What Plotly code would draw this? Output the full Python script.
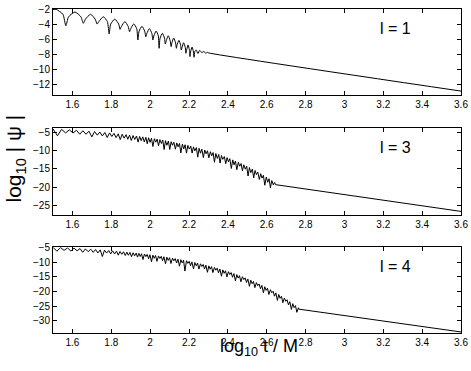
import plotly.graph_objects as go

# log10(t/M) and log10|psi| for the three multipoles
logt_l1 = [1.500, 1.516, 1.551, 1.566,
           1.580, 1.613, 1.644, 1.656, 1.667, 1.693, 1.717, 1.727,
           1.736, 1.759, 1.780, 1.789, 1.797, 1.818, 1.838, 1.845,
           1.852, 1.870, 1.887, 1.894, 1.900, 1.916, 1.931, 1.937,
           1.943, 1.958, 1.972, 1.978, 1.983, 1.996, 2.009, 2.014,
           2.019, 2.031, 2.042, 2.046, 2.051, 2.063, 2.074, 2.078,
           2.083, 2.093, 2.103, 2.108, 2.112, 2.121, 2.131, 2.135,
           2.138, 2.148, 2.157, 2.160, 2.164, 2.172, 2.181, 2.184,
           2.188, 2.195, 2.202, 2.205, 2.208, 2.216, 2.223, 2.226,
           2.230, 2.237, 2.246, 2.255, 2.266, 2.276, 2.287, 2.294, 2.301,
           3.600]
psi_l1 = [-2.02, -2.00, -2.65, -4.17,
          -3.00, -2.35, -3.00, -3.85, -3.30, -2.65, -3.30, -3.95,
          -3.63, -2.98, -3.63, -5.27, -3.95, -3.30, -3.95, -4.65,
          -4.27, -3.62, -4.27, -4.97, -4.58, -3.93, -4.58, -6.07,
          -4.90, -4.25, -4.90, -5.63, -5.21, -4.56, -5.21, -6.07,
          -5.52, -4.87, -5.52, -7.17, -5.83, -5.18, -5.83, -6.60,
          -6.15, -5.50, -6.15, -6.95, -6.45, -5.80, -6.45, -7.17,
          -6.77, -6.12, -6.77, -7.40, -7.08, -6.43, -7.08, -7.83,
          -7.37, -6.72, -7.37, -8.27, -7.65, -7.00, -7.65, -8.36,
          -7.60, -7.38, -7.85, -7.45, -7.75, -7.60, -7.82, -7.70, -7.78,
          -12.85]

logt_l3 = [1.500, 1.523, 1.544, 1.565, 1.584, 1.603, 1.621, 1.638, 1.654, 1.670,
           1.685, 1.700, 1.714, 1.728, 1.741, 1.754, 1.767, 1.779, 1.791, 1.803,
           1.814, 1.825, 1.836, 1.846, 1.856, 1.866, 1.876, 1.885, 1.894, 1.903,
           1.912, 1.921, 1.930, 1.938, 1.946, 1.954, 1.962, 1.970, 1.978, 1.985,
           1.992,
           2.000, 2.007, 2.014, 2.022, 2.029, 2.036, 2.043, 2.050, 2.058, 2.065,
           2.072, 2.079, 2.086, 2.094, 2.101, 2.108, 2.115, 2.122, 2.130, 2.137,
           2.144, 2.151, 2.158, 2.166, 2.173, 2.180, 2.187, 2.194, 2.202, 2.209,
           2.216, 2.223, 2.230, 2.238, 2.245, 2.252, 2.259, 2.266, 2.274, 2.281,
           2.288, 2.295, 2.302, 2.310, 2.317, 2.324, 2.331, 2.338, 2.346, 2.353,
           2.360, 2.367, 2.374, 2.382, 2.389, 2.396, 2.403, 2.410, 2.418, 2.425,
           2.432, 2.439, 2.446, 2.454, 2.461, 2.468, 2.475, 2.482, 2.490, 2.497,
           2.504, 2.511, 2.518, 2.526, 2.533, 2.540, 2.547, 2.554, 2.562, 2.569,
           2.576, 2.583, 2.590, 2.598, 2.605, 2.612, 2.619, 2.626, 2.634, 2.641,
           2.645, 3.600]
psi_l3 = [-4.10, -5.96, -4.22, -5.18, -4.34, -5.20, -4.46, -5.53, -4.58, -5.54,
          -4.70, -6.26, -4.82, -5.79, -4.94, -6.00, -5.07, -6.42, -5.18, -6.15,
          -5.31, -6.46, -5.43, -6.99, -5.54, -6.61, -5.67, -6.92, -5.78, -7.24,
          -5.90, -6.96, -6.02, -7.68, -6.14, -7.30, -6.26, -7.62, -6.38, -8.14,
          -6.50,
          -7.76, -6.62, -8.88, -6.75, -7.71, -6.87, -8.73, -7.00, -8.07, -7.14,
          -9.71, -7.28, -8.55, -7.43, -9.70, -7.58, -8.55, -7.73, -9.62, -7.90,
          -8.97, -8.06, -10.64, -8.24, -9.52, -8.41, -10.70, -8.59, -9.59, -8.78,
          -10.68, -8.98, -10.07, -9.19, -11.79, -9.39, -10.70, -9.60, -11.92, -9.84,
          -10.85, -10.06, -11.97, -10.31, -11.43, -10.55, -13.17, -10.80, -12.14, -11.07,
          -13.41, -11.34, -12.38, -11.64, -13.58, -11.92, -13.06, -12.21, -14.88, -12.54,
          -13.89, -12.85, -15.21, -13.20, -14.27, -13.54, -15.51, -13.88, -15.08, -14.27,
          -16.95, -14.63, -16.03, -15.05, -17.44, -15.44, -16.55, -15.85, -17.89, -16.31,
          -17.52, -16.74, -19.46, -17.23, -18.66, -17.69, -20.13, -18.18, -19.36, -18.71,
          -19.30, -26.60]

logt_l4 = [1.500, 1.520, 1.539, 1.557, 1.575, 1.592, 1.608, 1.624, 1.639, 1.653,
           1.667, 1.681, 1.694, 1.707, 1.719, 1.731, 1.743, 1.754, 1.765, 1.776,
           1.787, 1.797, 1.807, 1.817, 1.827, 1.836, 1.845, 1.854, 1.863, 1.872,
           1.880, 1.888, 1.896, 1.904, 1.912, 1.920, 1.928, 1.935, 1.942,
           1.949, 1.956, 1.963, 1.971, 1.978, 1.985, 1.992, 1.999, 2.007, 2.014,
           2.021, 2.028, 2.035, 2.043, 2.050, 2.057, 2.064, 2.071, 2.079, 2.086,
           2.093, 2.100, 2.107, 2.115, 2.122, 2.129, 2.136, 2.143, 2.151, 2.158,
           2.165, 2.172, 2.179, 2.187, 2.194, 2.201, 2.208, 2.215, 2.223, 2.230,
           2.237, 2.244, 2.251, 2.259, 2.266, 2.273, 2.280, 2.287, 2.295, 2.302,
           2.309, 2.316, 2.323, 2.331, 2.338, 2.345, 2.352, 2.359, 2.367, 2.374,
           2.381, 2.388, 2.395, 2.403, 2.410, 2.417, 2.424, 2.431, 2.439, 2.446,
           2.453, 2.460, 2.467, 2.475, 2.482, 2.489, 2.496, 2.503, 2.511, 2.518,
           2.525, 2.532, 2.539, 2.547, 2.554, 2.561, 2.568, 2.575, 2.583, 2.590,
           2.597, 2.604, 2.611, 2.619, 2.626, 2.633, 2.640, 2.647, 2.655, 2.662,
           2.669, 2.676, 2.683, 2.691, 2.698, 2.705, 2.712, 2.719, 2.727, 2.734,
           2.741, 2.748, 2.755, 2.763,
           2.765, 3.600]
psi_l4 = [-4.99, -6.34, -5.10, -6.05, -5.21, -6.27, -5.32, -6.18, -5.44, -6.69,
          -5.54, -6.50, -5.65, -6.71, -5.77, -6.92, -5.87, -8.13, -5.98, -6.94,
          -6.10, -7.25, -6.20, -7.26, -6.32, -7.67, -6.43, -7.38, -6.53, -7.79,
          -6.65, -7.70, -6.75, -8.21, -6.86, -7.92, -6.98, -8.33, -7.08,
          -8.13, -7.19, -9.15, -7.30, -8.16, -7.42, -8.88, -7.54, -9.91, -7.67,
          -8.73, -7.80, -9.77, -7.94, -8.80, -8.08, -9.55, -8.22, -10.59, -8.37,
          -9.45, -8.53, -10.50, -8.68, -9.57, -8.85, -10.33, -9.02, -11.41, -9.20,
          -10.29, -9.38, -13.07, -9.56, -10.46, -9.76, -11.26, -9.96, -12.36, -10.17,
          -11.28, -10.38, -12.39, -10.61, -11.52, -10.84, -12.35, -11.07, -13.49, -11.32,
          -12.44, -11.57, -13.60, -11.83, -12.77, -12.10, -13.64, -12.38, -14.83, -12.67,
          -13.82, -12.97, -15.03, -13.28, -14.24, -13.60, -15.17, -13.93, -16.40, -14.27,
          -15.45, -14.63, -16.71, -14.99, -15.98, -15.37, -16.96, -15.76, -18.26, -16.16,
          -17.37, -16.58, -18.69, -17.01, -18.03, -17.46, -19.09, -17.92, -20.46, -18.40,
          -19.64, -18.89, -21.04, -19.40, -20.46, -19.92, -21.59, -20.47, -23.04, -21.03,
          -22.32, -21.61, -23.81, -22.21, -23.32, -22.83, -24.55, -23.47, -26.10, -24.14,
          -25.48, -24.82, -27.08, -25.53,
          -26.00, -33.75]

panel_labels = ["l = 1", "l = 3", "l = 4"]
x_ticks = [1.6, 1.8, 2.0, 2.2, 2.4, 2.6, 2.8, 3.0, 3.2, 3.4, 3.6]
y_ticks = [[-2, -4, -6, -8, -10, -12],
           [-5, -10, -15, -20, -25],
           [-5, -10, -15, -20, -25, -30]]
y_ranges = [[-13.35, -1.95], [-27.6, -3.9], [-34.1, -4.95]]
domains = [[0.735, 1.0], [0.364, 0.632], [0.0, 0.265]]

fig = go.Figure()

series = [(logt_l1, psi_l1, "spline"), (logt_l3, psi_l3, "linear"), (logt_l4, psi_l4, "linear")]
for i, (xs, ys, shape) in enumerate(series):
    n = "" if i == 0 else str(i + 1)
    fig.add_trace(go.Scatter(x=xs, y=ys, mode="lines", xaxis="x" + n, yaxis="y" + n,
                             line=dict(color="black", width=1.0, shape=shape, smoothing=0.6),
                             showlegend=False, hoverinfo="skip"))

font = "Liberation Sans, Arial, sans-serif"
axis_style = dict(showline=True, linecolor="black", linewidth=1, mirror="ticks",
                  ticks="inside", ticklen=4, tickcolor="black", showgrid=False,
                  zeroline=False, automargin=False,
                  tickfont=dict(family=font, size=10, color="black"))

layout = dict(width=471, height=371, plot_bgcolor="white", paper_bgcolor="white",
              margin=dict(l=53, r=10, t=9, b=38, pad=0, autoexpand=False))
for i in range(3):
    n = "" if i == 0 else str(i + 1)
    layout["xaxis" + n] = dict(axis_style, range=[1.5, 3.6], tickvals=x_ticks,
                               domain=[0, 1], anchor="y" + n)
    layout["yaxis" + n] = dict(axis_style, range=y_ranges[i], tickvals=y_ticks[i],
                               domain=domains[i], anchor="x" + n)
fig.update_layout(**layout)

for i, lab in enumerate(panel_labels):
    fig.add_annotation(text=lab, xref="paper", yref="paper", x=0.84,
                       y=domains[i][1] - 0.06, xanchor="center", yanchor="middle",
                       showarrow=False, font=dict(family=font, size=16, color="black"))

fig.add_annotation(text="log<sub>10</sub> | ψ |", xref="paper", yref="paper", x=-0.092, y=0.54,
                   textangle=-90, showarrow=False, xanchor="center", yanchor="middle",
                   font=dict(family=font, size=21, color="black"))
fig.add_annotation(text="log<sub>10</sub> t / M", xref="paper", yref="paper", x=0.505, y=-0.045,
                   showarrow=False, xanchor="center", yanchor="middle",
                   font=dict(family=font, size=18, color="black"))

# drop the default 8 px page margin so the figure sits at the window origin
fig.write_html("out.html", config={"displayModeBar": False},
               post_script="document.body.style.margin='0';"
                           "document.body.style.overflow='hidden';")
